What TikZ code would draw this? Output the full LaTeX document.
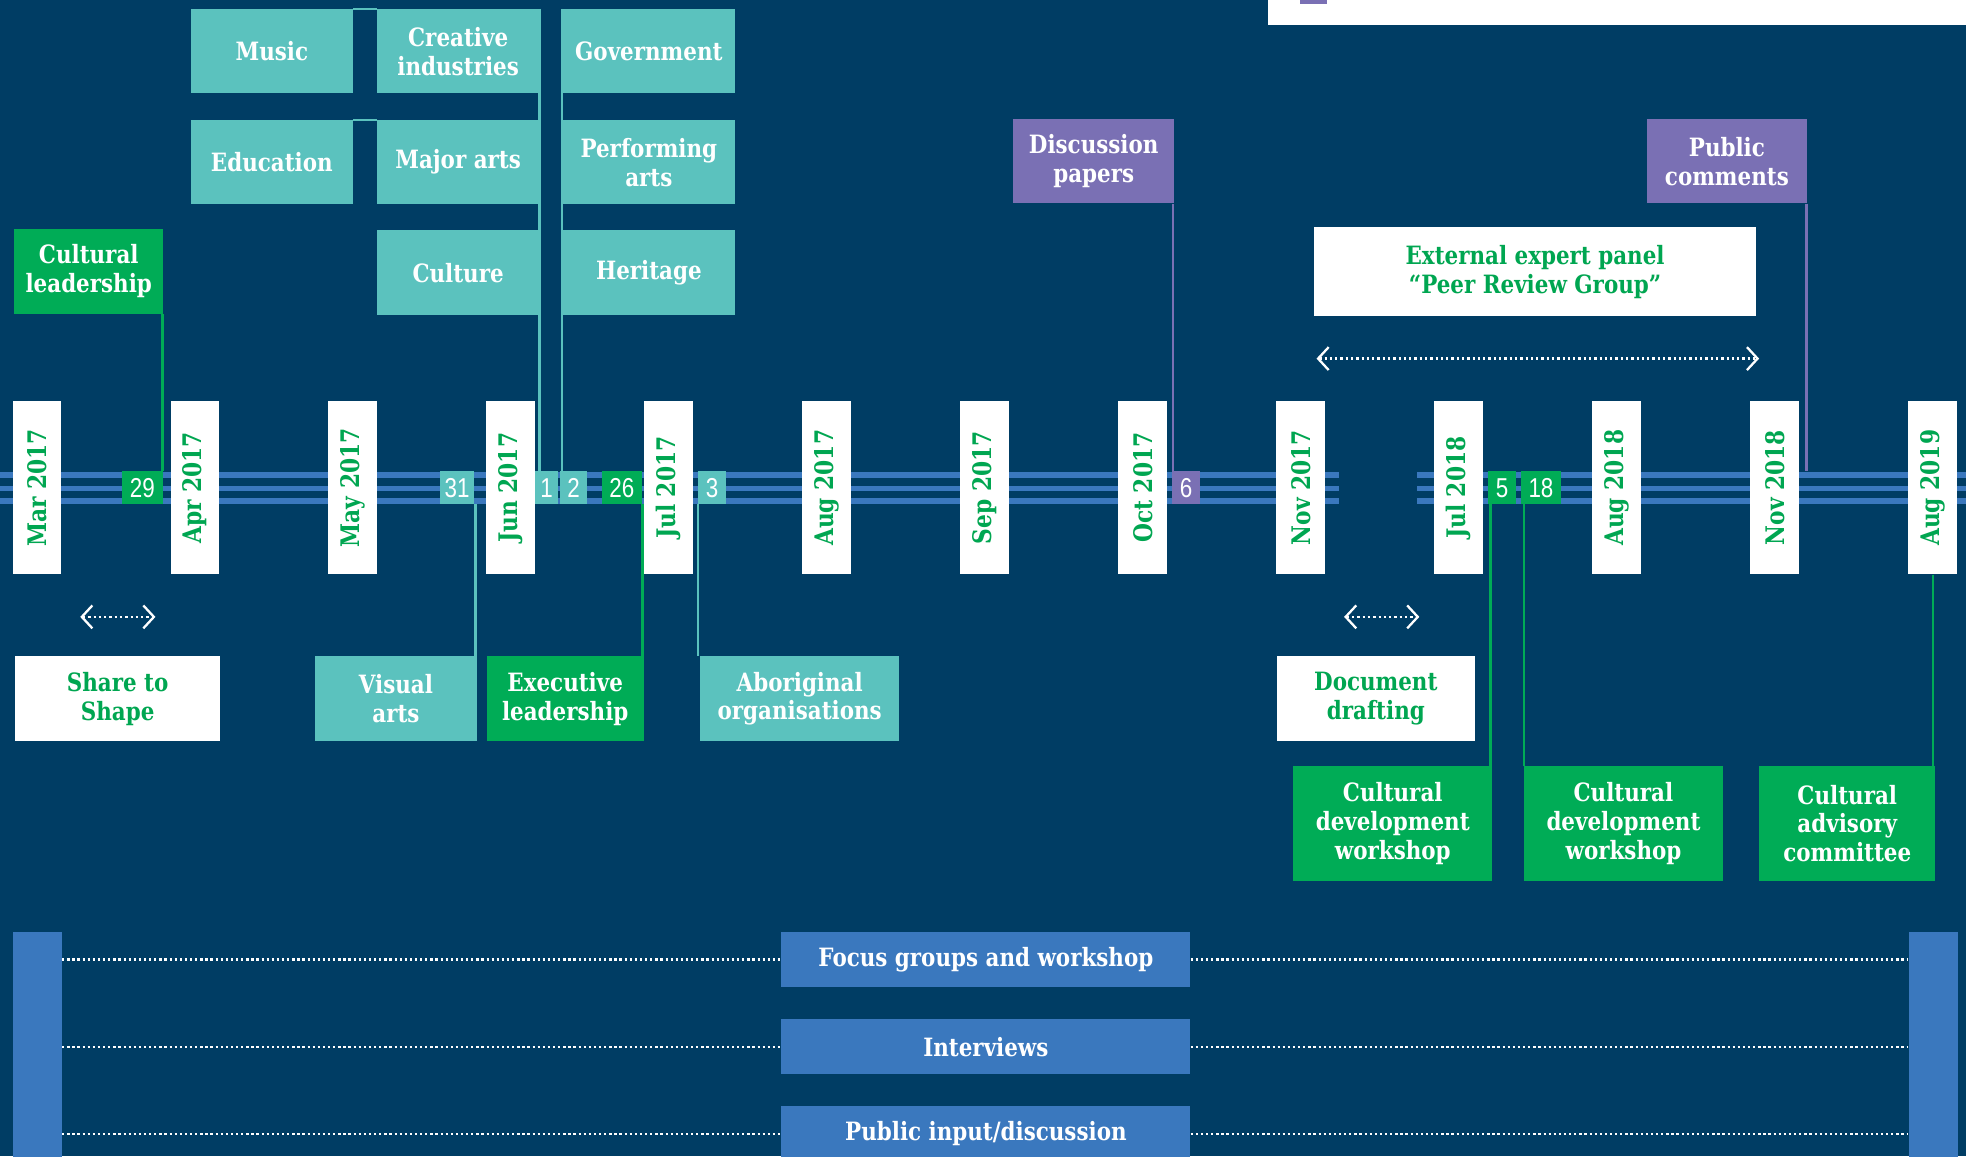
\documentclass[tikz,border=0pt]{standalone}
\usepackage{fontspec}
\setmainfont{DejaVu Serif}[FakeStretch=0.85]
\newfontfamily\daysfamily{Liberation Sans}[FakeStretch=0.82]
\usetikzlibrary{arrows.meta,positioning}
\definecolor{navy}{RGB}{0,61,100}
\definecolor{tealfill}{RGB}{91,194,190}
\definecolor{greenfill}{RGB}{0,172,86}
\definecolor{greentext}{RGB}{0,166,81}
\definecolor{purplefill}{RGB}{122,112,180}
\definecolor{bluefill}{RGB}{58,120,190}
\newcommand\boxfont{\fontsize{14.3}{16.4}\selectfont}
\newcommand\dayfont{\daysfamily\fontsize{15.5}{16}\selectfont}
\tikzset{
    %Define style for the boxes
    boxbase/.style={
           rectangle,
           inner sep=0pt,
           anchor=north west,
           align=center,
           text=white,
           font=\bfseries\boxfont},
    topicbox/.style={
           boxbase,
           fill=tealfill,
           minimum height=1.675cm,
           minimum width=3.225cm},
    topicboxw/.style={
           topicbox,
           minimum width=3.45cm},
    actbox/.style={
           boxbase,
           fill=greenfill,
           minimum height=1.7cm},
    whitebox/.style={
           boxbase,
           fill=white,
           text=greentext,
           minimum height=1.7cm},
    paperbox/.style={
           boxbase,
           fill=purplefill,
           minimum height=1.675cm,
           minimum width=3.2cm},
    methodbox/.style={
           boxbase,
           fill=bluefill,
           minimum height=1.1cm,
           minimum width=8.15cm},
    sidebar/.style={
           rectangle,
           fill=bluefill,
           anchor=north west,
           minimum width=0.975cm,
           minimum height=4.6cm},
    monthbox/.style={
           rectangle,
           fill=white,
           text=greentext,
           inner sep=0pt,
           rotate=90,
           minimum width=3.45cm,
           minimum height=0.975cm,
           font=\bfseries\fontsize{14.5}{15}\selectfont},
    daybox/.style={
           rectangle,
           inner sep=0pt,
           text=white,
           minimum height=0.65cm,
           font=\dayfont},
    link/.style={line width=1.4pt},
    spanarrow/.style={white, line width=1.3pt, dash pattern=on 1.3pt off 1.7pt,
           {Straight Barb[length=6pt,width=13pt,line width=1.3pt]}-{Straight Barb[length=6pt,width=13pt,line width=1.3pt]}},
    dotline/.style={white, line width=1.3pt, dash pattern=on 1.3pt off 1.6pt}
}

\begin{document}
\begin{tikzpicture}[x=0.025cm, y=-0.025cm]
\fill[navy] (0,0) rectangle (1568,922);
\clip (0,0) rectangle (1568,922);
% legend (cut off at the top)
\fill[white] (1011,-5) rectangle (1568,20);
\fill[purplefill] (1037,-5) rectangle (1058,3);

% timeline
\foreach \ty in {379,389.5,399.5}{
  \draw[bluefill, line width=3.2pt] (0,\ty) -- (1068,\ty);
  \draw[bluefill, line width=3.2pt] (1130,\ty) -- (1568,\ty);
}
\foreach \k/\name/\lbl in {0/mar17/Mar 2017, 1/apr17/Apr 2017, 2/may17/May 2017, 3/jun17/Jun 2017,
    4/jul17/Jul 2017, 5/aug17/Aug 2017, 6/sep17/Sep 2017, 7/oct17/Oct 2017, 8/nov17/Nov 2017,
    9/jul18/Jul 2018, 10/aug18/Aug 2018, 11/nov18/Nov 2018, 12/aug19/Aug 2019}
  \node[monthbox] (\name) at ({29.5+126*\k},389) {\lbl};

% days
\node[daybox, fill=greenfill, minimum width=0.825cm] (d29) at (113.5,389) {29};
\node[daybox, fill=tealfill, minimum width=0.675cm] (d31) at (364.5,389) {31};
\node[daybox, fill=tealfill, minimum width=0.45cm] (d1) at (436,389) {1};
\node[daybox, fill=tealfill, minimum width=0.525cm] (d2) at (457.5,389) {2};
\node[daybox, fill=greenfill, minimum width=0.8cm] (d26) at (496,389) {26};
\node[daybox, fill=tealfill, minimum width=0.55cm] (d3) at (568,389) {3};
\node[daybox, fill=purplefill, minimum width=0.55cm] (d6) at (946,389) {6};
\node[daybox, fill=greenfill, minimum width=0.55cm] (d5) at (1198,389) {5};
\node[daybox, fill=greenfill, minimum width=0.8cm] (d18) at (1229,389) {18};

% sectors
\node[topicbox] (music) at (152,7) {Music};
\node[topicbox, right=0.475cm of music.north east, anchor=north west] (creative) {Creative\\industries};
\node[topicboxw, right=0.45cm of creative.north east, anchor=north west] (govt) {Government};
\node[topicbox, below=0.525cm of music.south west, anchor=north west] (educ) {Education};
\node[topicbox, below=0.525cm of creative.south west, anchor=north west] (major) {Major arts};
\node[topicboxw, below=0.525cm of govt.south west, anchor=north west] (perf) {Performing\\arts};
\node[topicbox, below=0.5cm of major.south west, anchor=north west, minimum height=1.7cm] (culture) {Culture};
\node[topicboxw, below=0.5cm of perf.south west, anchor=north west, minimum height=1.7cm] (herit) {Heritage};
\node[actbox, minimum width=2.975cm] (leader) at (11,182) {Cultural\\leadership};
\node[paperbox] (disc) at (808,95) {Discussion\\papers};
\node[paperbox] (public) at (1313,95) {Public\\comments};
\node[whitebox, minimum width=8.8cm, minimum height=1.775cm] (expert) at (1048,181) {External expert panel\\``Peer Review Group''};

% lower row
\node[whitebox, minimum width=4.075cm] (share) at (12,523) {Share to\\Shape};
\node[topicbox, minimum height=1.7cm] (visual) at (251,523) {Visual\\arts};
\node[actbox, minimum width=3.125cm] (exec) at (388,523) {Executive\\leadership};
\node[topicbox, minimum width=3.975cm, minimum height=1.7cm] (aborig) at (558,523) {Aboriginal\\organisations};
\node[whitebox, minimum width=3.95cm] (draft) at (1018,523) {Document\\drafting};
\node[actbox, minimum width=3.975cm, minimum height=2.275cm] (cdw1) at (1031,611) {Cultural\\development\\workshop};
\node[actbox, minimum width=3.975cm, minimum height=2.275cm] (cdw2) at (1215,611) {Cultural\\development\\workshop};
\node[actbox, minimum width=3.5cm, minimum height=2.275cm] (cac) at (1403,611) {Cultural\\advisory\\committee};

% methods
\node[sidebar] (lbar) at (10,743) {};
\node[sidebar] (rbar) at (1522,743) {};
\node[methodbox] (focus) at (623,743) {Focus groups and workshop};
\node[methodbox, below=0.625cm of focus.south west, anchor=north west] (interv) {Interviews};
\node[methodbox, below=0.625cm of interv.south west, anchor=north west] (pubin) {Public input/discussion};

% links
\draw[link, color=greenfill] ([xshift=-0.7pt]leader.south east) -- ([xshift=-0.7pt]leader.south east |- d29.north);
\draw[link, color=tealfill] (music.north east) -- (creative.north west);
\draw[link, color=tealfill] (educ.north east) -- (major.north west);
\draw[link, color=tealfill] (creative.north east) -- (creative.north east |- d1.north);
\draw[link, color=tealfill] (govt.north west) -- (govt.north west |- d2.north);
\draw[link, color=tealfill] ([xshift=0.7pt]d31.south east) -- ([xshift=0.7pt]d31.south east |- visual.north);
\draw[link, color=greenfill] (d26.south east) -- (d26.south east |- exec.north);
\draw[link, color=tealfill] (d3.south west) -- (d3.south west |- aborig.north);
\draw[link, color=purplefill] ([xshift=-0.7pt]disc.south east) -- ([xshift=-0.7pt]disc.south east |- d6.north);
\draw[link, color=purplefill] ([xshift=-0.7pt]public.south east) -- ([xshift=-0.7pt]public.south east |- d6.north);
\draw[link, color=greenfill] ([xshift=1.5pt]d5.south west) -- ([xshift=1.5pt]d5.south west |- cdw1.north);
\draw[link, color=greenfill] ([xshift=2pt]d18.south west) -- ([xshift=2pt]d18.south west |- cdw2.north);
\draw[link, color=greenfill] (aug19.west) -- (aug19.west |- cac.north);

% spans
\coordinate (s1) at (64,492);
\coordinate (e1) at (124,492);
\coordinate (s2) at (1072,492);
\coordinate (e2) at (1132,492);
\coordinate (s3) at (1050,286);
\coordinate (e3) at (1403,286);
\draw[spanarrow] (s1) -- (e1);
\draw[spanarrow] (s2) -- (e2);
\draw[spanarrow] (s3) -- (e3);

\foreach \m in {focus,interv,pubin}{
  \draw[dotline] (lbar.east |- \m.west) -- (\m.west);
  \draw[dotline] (\m.east) -- (rbar.west |- \m.east);
}
\end{tikzpicture}
\end{document}
